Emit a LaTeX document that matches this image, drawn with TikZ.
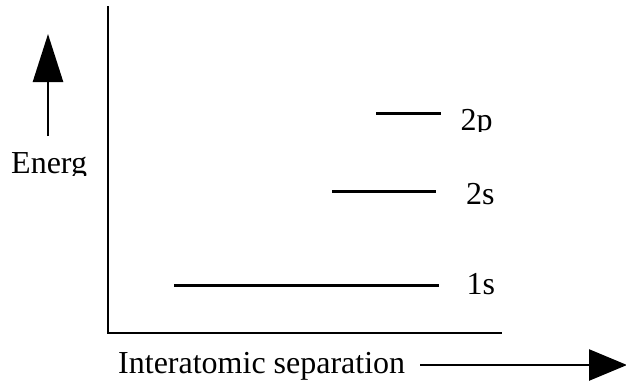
\documentclass[tikz,border=0pt]{standalone}
\usepackage{fontspec}
\setmainfont{Liberation Serif}
\usetikzlibrary{arrows.meta}

\tikzset{
  axis/.style={line width=2.7pt, line cap=rect},
  level/.style={line width=3pt},
  pointer/.style={line width=2.6pt},
  label/.style={inner sep=0pt, anchor=base west, font=\fontsize{32}{36}\selectfont},
}

\begin{document}
\begin{tikzpicture}[x=1pt, y=-1pt]
  \useasboundingbox (0,0) rectangle (626,380);
  \clip (0,0) rectangle (626,380);

  % axes
  \coordinate (ytop) at (108,7);
  \coordinate (origin) at (108,333);
  \coordinate (xend) at (501,333);
  \draw[axis] (ytop) -- (origin) -- (xend);

  % energy levels
  \coordinate (p2a) at (376,113);  \coordinate (p2b) at (441,113);
  \coordinate (s2a) at (332,191.5); \coordinate (s2b) at (436,191.5);
  \coordinate (s1a) at (174,285);  \coordinate (s1b) at (439,285);
  \draw[level] (p2a) -- (p2b);
  \draw[level] (s2a) -- (s2b);
  \draw[level] (s1a) -- (s1b);

  % level labels
  \begin{scope}
    \clip (440,90) rectangle (520,131);
    \node[label] (l2p) at (460.5,130) {2p};
  \end{scope}
  \node[label] (l2s) at (466,204.5) {2s};
  \node[label] (l1s) at (466.5,294.5) {1s};

  % energy direction
  \coordinate (eup0) at (48,136);
  \coordinate (eup1) at (48,34);
  \draw[pointer, -{Triangle[length=48pt,width=30pt]}] (eup0) -- (eup1);
  \begin{scope}
    \clip (0,140) rectangle (100,175.5);
    \node[label] (energy) at (11,173.5) {Energ};
  \end{scope}

  % separation direction
  \node[label] (sep) at (118,373.5) {Interatomic separation};
  \coordinate (sep0) at (420,365);
  \coordinate (sep1) at (627,365);
  \draw[pointer, -{Triangle[length=38pt,width=31pt]}] (sep0) -- (sep1);
\end{tikzpicture}
\end{document}
